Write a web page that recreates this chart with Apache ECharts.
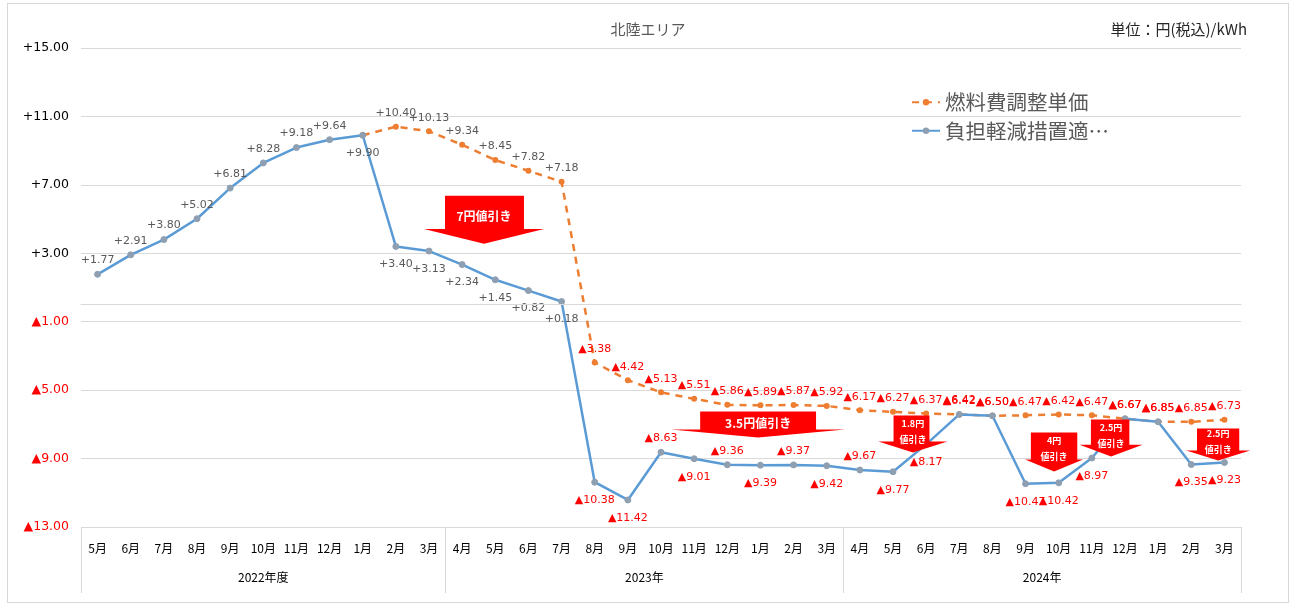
<!DOCTYPE html>
<html style="height: 100%">
<head>
  <meta charset="utf-8">
</head>
<body style="height: 100%; margin: 0; background: #fff">
  <div id="container" style="position: absolute; left: 7px; top: 3px; width: 1282px; height: 600px; border: 1px solid #d9d9d9; box-sizing: border-box"></div>

  <script type="text/javascript" src="https://cdn.jsdelivr.net/npm/echarts@6/dist/echarts.min.js"></script>
  <script type="text/javascript">
    // months: 2022年度 (5月-3月), 2023年 (4月-3月), 2024年 (4月-3月)
    var months = [
      '5月', '6月', '7月', '8月', '9月', '10月', '11月', '12月', '1月', '2月', '3月',
      '4月', '5月', '6月', '7月', '8月', '9月', '10月', '11月', '12月', '1月', '2月', '3月',
      '4月', '5月', '6月', '7月', '8月', '9月', '10月', '11月', '12月', '1月', '2月', '3月'
    ];
    var groups = ['2022年度', '2023年', '2024年'];
    var groupSizes = [11, 12, 12];

    // 燃料費調整単価
    var fuelAdj = [
      null, null, null, null, null, null, null, null, 9.90, 10.40, 10.13,
      9.34, 8.45, 7.82, 7.18, -3.38, -4.42, -5.13, -5.51, -5.86, -5.89, -5.87, -5.92,
      -6.17, -6.27, -6.37, -6.42, -6.50, -6.47, -6.42, -6.47, -6.67, -6.85, -6.85, -6.73
    ];
    // 負担軽減措置適用後
    var afterRelief = [
      1.77, 2.91, 3.80, 5.02, 6.81, 8.28, 9.18, 9.64, 9.90, 3.40, 3.13,
      2.34, 1.45, 0.82, 0.18, -10.38, -11.42, -8.63, -9.01, -9.36, -9.39, -9.37, -9.42,
      -9.67, -9.77, -8.17, -6.42, -6.50, -10.47, -10.42, -8.97, -6.67, -6.85, -9.35, -9.23
    ];
    // 値引き annotations: text, month position (0 = left edge), value
    var discountText = ['7円値引き', '3.5円値引き', '1.8円\n値引き', '4円\n値引き', '2.5円\n値引き', '2.5円\n値引き'];
    var discountX = [12.16, 20.43, 25.1, 29.36, 31.08, 34.31];
    var discountY = [4.96, -7.01, -7.57, -8.62, -7.80, -8.18];

    // label placement (t = top, b = bottom)
    var blueLabelPos = 'ttttttttbbbbbbbbbtbtbtbtbbttbbbttbb';
    // arrow shapes: [width, height, bodyLeft, bodyRight, headStart]
    var arrowShapes = [
      [120, 48, 17.5, 83.3, 69],
      [174, 26, 16.7, 83.3, 69],
      [69, 37, 22, 74, 70],
      [58, 39, 10, 90, 69],
      [63, 37, 18, 79, 68],
      [64, 32, 17, 83, 69]
    ];

    function fmt(v) {
      if (v >= 0) return '+' + v.toFixed(2);
      return '▲' + Math.abs(v).toFixed(2);
    }
    function labelColor(v) {
      return v >= 0 ? '#595959' : '#ff0000';
    }

    var dom = document.getElementById('container');
    var myChart = echarts.init(dom);

    var orangeData = fuelAdj.map(function (v, i) {
      if (v == null) return null;
      return {
        value: v,
        label: { show: i > 8, color: labelColor(v), position: 'top' }
      };
    });
    var blueData = afterRelief.map(function (v, i) {
      var bottom = blueLabelPos[i] === 'b';
      return {
        value: v,
        label: { color: labelColor(v), position: bottom ? 'bottom' : 'top', distance: bottom ? 9 : 5 }
      };
    });
    var arrowData = discountText.map(function (t, i) {
      var s = arrowShapes[i];
      var hb = s[4];
      var path = 'path://M' + s[2] + ' 0L' + s[3] + ' 0L' + s[3] + ' ' + hb + 'L100 ' + hb +
        'L50 100L0 ' + hb + 'L' + s[2] + ' ' + hb + 'Z';
      var twoLine = t.indexOf('\n') >= 0;
      return {
        value: [discountX[i], discountY[i]],
        symbol: path,
        symbolSize: [s[0], s[1]],
        label: {
          formatter: t,
          fontSize: twoLine ? 9 : 12,
          lineHeight: twoLine ? 16 : 14,
          position: ['50%', twoLine ? '42%' : '44%']
        }
      };
    });

    var groupTicks = [0];
    var groupCenters = [];
    var acc = 0;
    groupSizes.forEach(function (n) {
      groupCenters.push(acc + n / 2);
      acc += n;
      groupTicks.push(acc);
    });

    var option = {
      backgroundColor: '#ffffff',
      animation: false,
      textStyle: { fontFamily: '"DejaVu Sans", "Noto Sans CJK JP", sans-serif' },
      title: [
        {
          text: '北陸エリア',
          left: 'center',
          top: 13,
          textStyle: { fontSize: 15, fontWeight: 'normal', color: '#595959', fontFamily: '"Noto Sans CJK JP"' }
        },
        {
          text: '単位：円(税込)/kWh',
          right: 36,
          top: 13,
          textStyle: { fontSize: 15, fontWeight: 'normal', color: '#262626', fontFamily: '"Noto Sans CJK JP"' }
        }
      ],
      legend: {
        orient: 'vertical',
        left: 898,
        top: 83,
        itemGap: 8,
        itemWidth: 28,
        itemHeight: 8,
        data: ['燃料費調整単価', '負担軽減措置適用後'],
        formatter: function (name) {
          return name.length > 7 ? name.slice(0, 7) + '…' : name;
        },
        textStyle: { fontSize: 20.5, color: '#595959', fontFamily: '"Noto Sans CJK JP"' }
      },
      grid: { left: 73, right: 47, top: 44, bottom: 75 },
      xAxis: [
        {
          type: 'category',
          data: months,
          boundaryGap: true,
          axisLine: { lineStyle: { color: '#d9d9d9' } },
          axisTick: { show: false },
          axisLabel: { interval: 0, margin: 15, fontSize: 12, color: '#000', fontFamily: '"Noto Sans CJK JP"' }
        },
        {
          type: 'value',
          position: 'bottom',
          min: 0,
          max: 35,
          splitLine: { show: false },
          axisLine: { show: false },
          axisTick: { show: true, customValues: groupTicks, length: 66, lineStyle: { color: '#d9d9d9' } },
          axisLabel: {
            customValues: groupCenters,
            margin: 44,
            fontSize: 12,
            color: '#000',
            fontFamily: '"Noto Sans CJK JP"',
            formatter: function (v) {
              var idx = groupCenters.indexOf(v);
              return idx >= 0 ? groups[idx] : '';
            }
          }
        }
      ],
      yAxis: {
        type: 'value',
        min: -13,
        max: 15,
        interval: 4,
        axisLine: { show: false },
        axisTick: { show: false },
        splitLine: { lineStyle: { color: '#d9d9d9' } },
        axisLabel: {
          margin: 12,
          fontSize: 12.5,
          formatter: function (v) {
            return v >= 0 ? '{p|' + fmt(v) + '}' : '{n|' + fmt(v) + '}';
          },
          rich: {
            p: { color: '#000', fontSize: 12.5 },
            n: { color: '#ff0000', fontSize: 12.5 }
          }
        }
      },
      series: [
        {
          name: '燃料費調整単価',
          type: 'line',
          data: orangeData,
          symbol: 'circle',
          symbolSize: 6,
          lineStyle: { color: '#ed7d31', width: 2.5, type: [7, 6] },
          itemStyle: { color: '#ed7d31' },
          label: { show: true, fontSize: 11, formatter: function (p) { return fmt(p.value); } },
          z: 2
        },
        {
          name: '負担軽減措置適用後',
          type: 'line',
          data: blueData,
          symbol: 'circle',
          symbolSize: 6,
          lineStyle: { color: '#5b9bd5', width: 2.5 },
          itemStyle: { color: '#8e9fb2', borderColor: '#8e9fb2' },
          label: { show: true, fontSize: 11, formatter: function (p) { return fmt(p.value); } },
          markLine: {
            silent: true,
            symbol: 'none',
            label: { show: false },
            lineStyle: { color: '#d9d9d9', type: 'solid', width: 1 },
            data: [{ yAxis: 0 }]
          },
          z: 3
        },
        {
          type: 'scatter',
          xAxisIndex: 1,
          data: arrowData,
          itemStyle: { color: '#ff0000', opacity: 1 },
          label: {
            show: true,
            color: '#fff',
            fontWeight: 'bold',
            align: 'center',
            verticalAlign: 'middle',
            fontFamily: '"Noto Sans CJK JP"'
          },
          silent: true,
          z: 5
        }
      ]
    };
    myChart.setOption(option);
  </script>
</body>
</html>
